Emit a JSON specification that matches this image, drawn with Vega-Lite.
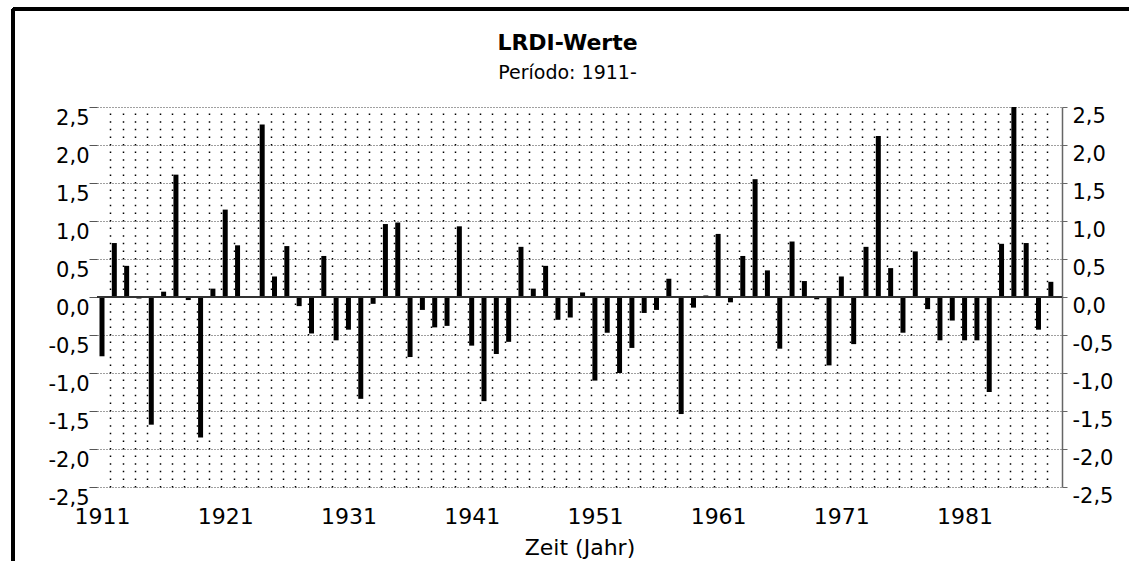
{
  "$schema": "https://vega.github.io/schema/vega-lite/v6.json",
  "width": 965,
  "height": 380,
  "autosize": "none",
  "padding": {"left": 97, "top": 107, "right": 72, "bottom": 74},
  "background": "white",
  "config": {"view": {"stroke": null}, "font": "DejaVu Sans"},
  "title": {
    "text": "LRDI-Werte",
    "subtitle": "Período: 1911-",
    "anchor": "middle",
    "dx": -12,
    "offset": -76,
    "fontSize": 22,
    "fontWeight": "bold",
    "color": "black",
    "subtitleFontSize": 19,
    "subtitleColor": "black",
    "subtitlePadding": 9
  },
  "data": {
    "values": [
      {"year": 1911, "value": -0.78}, {"year": 1912, "value": 0.71}, {"year": 1913, "value": 0.41},
      {"year": 1914, "value": -0.02}, {"year": 1915, "value": -1.68}, {"year": 1916, "value": 0.07},
      {"year": 1917, "value": 1.61}, {"year": 1918, "value": -0.04}, {"year": 1919, "value": -1.85},
      {"year": 1920, "value": 0.11}, {"year": 1921, "value": 1.15}, {"year": 1922, "value": 0.68},
      {"year": 1923, "value": 0.0}, {"year": 1924, "value": 2.27}, {"year": 1925, "value": 0.27},
      {"year": 1926, "value": 0.67}, {"year": 1927, "value": -0.12}, {"year": 1928, "value": -0.48},
      {"year": 1929, "value": 0.54}, {"year": 1930, "value": -0.57}, {"year": 1931, "value": -0.43},
      {"year": 1932, "value": -1.34}, {"year": 1933, "value": -0.09}, {"year": 1934, "value": 0.96},
      {"year": 1935, "value": 0.98}, {"year": 1936, "value": -0.79}, {"year": 1937, "value": -0.17},
      {"year": 1938, "value": -0.4}, {"year": 1939, "value": -0.38}, {"year": 1940, "value": 0.93},
      {"year": 1941, "value": -0.64}, {"year": 1942, "value": -1.37}, {"year": 1943, "value": -0.75},
      {"year": 1944, "value": -0.59}, {"year": 1945, "value": 0.66}, {"year": 1946, "value": 0.11},
      {"year": 1947, "value": 0.41}, {"year": 1948, "value": -0.3}, {"year": 1949, "value": -0.27},
      {"year": 1950, "value": 0.06}, {"year": 1951, "value": -1.1}, {"year": 1952, "value": -0.47},
      {"year": 1953, "value": -1.0}, {"year": 1954, "value": -0.67}, {"year": 1955, "value": -0.21},
      {"year": 1956, "value": -0.17}, {"year": 1957, "value": 0.24}, {"year": 1958, "value": -1.54},
      {"year": 1959, "value": -0.14}, {"year": 1960, "value": 0.02}, {"year": 1961, "value": 0.83},
      {"year": 1962, "value": -0.07}, {"year": 1963, "value": 0.54}, {"year": 1964, "value": 1.55},
      {"year": 1965, "value": 0.35}, {"year": 1966, "value": -0.68}, {"year": 1967, "value": 0.73},
      {"year": 1968, "value": 0.21}, {"year": 1969, "value": -0.03}, {"year": 1970, "value": -0.9},
      {"year": 1971, "value": 0.27}, {"year": 1972, "value": -0.62}, {"year": 1973, "value": 0.66},
      {"year": 1974, "value": 2.12}, {"year": 1975, "value": 0.38}, {"year": 1976, "value": -0.47},
      {"year": 1977, "value": 0.6}, {"year": 1978, "value": -0.16}, {"year": 1979, "value": -0.57},
      {"year": 1980, "value": -0.31}, {"year": 1981, "value": -0.57}, {"year": 1982, "value": -0.57},
      {"year": 1983, "value": -1.25}, {"year": 1984, "value": 0.7}, {"year": 1985, "value": 2.5},
      {"year": 1986, "value": 0.71}, {"year": 1987, "value": -0.43}, {"year": 1988, "value": 0.2}
    ]
  },
  "layer": [
    {
      "mark": {"type": "bar", "width": 5, "color": "black"},
      "encoding": {
        "x": {
          "field": "year",
          "type": "quantitative",
          "scale": {"domain": [1911, 1988.5], "nice": false, "zero": false},
          "axis": {
            "orient": "bottom",
            "values": [1911, 1921, 1931, 1941, 1951, 1961, 1971, 1981],
            "format": "d",
            "grid": false,
            "ticks": false,
            "domain": false,
            "labelFontSize": 22,
            "labelColor": "black",
            "labelPadding": 19,
            "title": "Zeit (Jahr)",
            "titleFontSize": 22,
            "titleFontWeight": "normal",
            "titleColor": "black",
            "titlePadding": 10
          }
        },
        "y": {
          "field": "value",
          "type": "quantitative",
          "scale": {"domain": [-2.5, 2.5], "nice": false},
          "axis": {
            "orient": "left",
            "values": [-2.5, -2, -1.5, -1, -0.5, 0, 0.5, 1, 1.5, 2, 2.5],
            "labelExpr": "replace(replace(format(datum.value, '.1f'), '.', ','), '\u2212', '-')",
            "grid": true,
            "gridDash": [1, 2],
            "gridColor": "black",
            "gridWidth": 1,
            "gridOpacity": 0.75,
            "domain": false,
            "ticks": true,
            "tickSize": 8,
            "tickColor": "#555",
            "labelPadding": 0,
            "labelBaseline": "top",
            "labelFontSize": 21,
            "labelColor": "black",
            "title": null
          }
        }
      }
    },
    {
      "mark": {"type": "rule", "color": "black", "strokeWidth": 2.5},
      "encoding": {
        "x": {
          "datum": 1903.77,
          "type": "quantitative",
          "scale": {"domain": [1911, 1988.5], "nice": false, "zero": false},
          "axis": {
            "orient": "top",
            "values": [1911.68, 1912.68, 1913.68, 1914.68, 1915.68, 1916.68, 1917.68, 1918.68, 1919.68, 1920.68,
                       1921.68, 1922.68, 1923.68, 1924.68, 1925.68, 1926.68, 1927.68, 1928.68, 1929.68, 1930.68,
                       1931.68, 1932.68, 1933.68, 1934.68, 1935.68, 1936.68, 1937.68, 1938.68, 1939.68, 1940.68,
                       1941.68, 1942.68, 1943.68, 1944.68, 1945.68, 1946.68, 1947.68, 1948.68, 1949.68, 1950.68,
                       1951.68, 1952.68, 1953.68, 1954.68, 1955.68, 1956.68, 1957.68, 1958.68, 1959.68, 1960.68,
                       1961.68, 1962.68, 1963.68, 1964.68, 1965.68, 1966.68, 1967.68, 1968.68, 1969.68, 1970.68,
                       1971.68, 1972.68, 1973.68, 1974.68, 1975.68, 1976.68, 1977.68, 1978.68, 1979.68, 1980.68,
                       1981.68, 1982.68, 1983.68, 1984.68, 1985.68, 1986.68, 1987.68],
            "labels": false,
            "ticks": false,
            "domain": false,
            "grid": true,
            "gridDash": [1.5, 6.1],
            "gridColor": "black",
            "gridWidth": 1.5,
            "title": null
          }
        },
        "y": {
          "datum": 3.79,
          "type": "quantitative",
          "scale": {"domain": [-2.5, 2.5], "nice": false},
          "axis": {
            "orient": "right",
            "values": [-2.5, -2, -1.5, -1, -0.5, 0, 0.5, 1, 1.5, 2, 2.5],
            "labelExpr": "replace(replace(format(datum.value, '.1f'), '.', ','), '\u2212', '-')",
            "grid": false,
            "domain": true,
            "domainColor": "#666",
            "domainWidth": 1.5,
            "ticks": true,
            "tickSize": 5,
            "tickColor": "#666",
            "labelPadding": 5,
            "labelBaseline": "top",
            "labelOffset": -2,
            "labelFontSize": 21,
            "labelColor": "black",
            "title": null
          }
        },
        "y2": {"datum": -3.47}
      }
    },
    {
      "mark": {"type": "rule", "color": "black", "strokeWidth": 2.5},
      "encoding": {
        "x": {"datum": 1903.77, "type": "quantitative", "axis": null, "scale": {"domain": [1911, 1988.5], "nice": false, "zero": false}},
        "x2": {"datum": 1994.3},
        "y": {"datum": 3.79, "type": "quantitative", "axis": null, "scale": {"domain": [-2.5, 2.5], "nice": false}}
      }
    },
    {
      "mark": {"type": "rule", "color": "#333", "strokeWidth": 1.5},
      "encoding": {
        "y": {"datum": 0, "type": "quantitative", "axis": null, "scale": {"domain": [-2.5, 2.5], "nice": false}}
      }
    }
  ],
  "resolve": {"axis": {"x": "independent", "y": "independent"}}
}
